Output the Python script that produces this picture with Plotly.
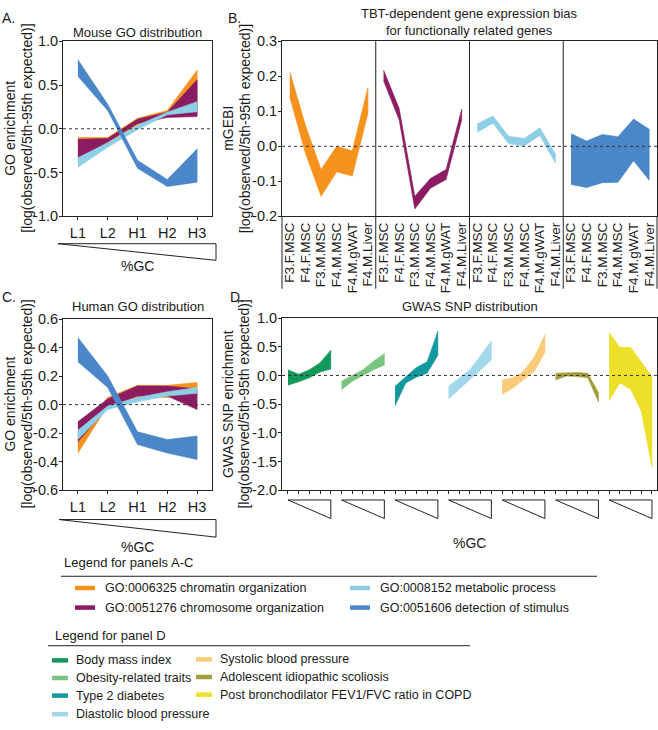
import plotly.graph_objects as go

# ---------------- data ----------------
gc_labels = ["L1", "L2", "H1", "H2", "H3"]
y_ticks_a = [-1.0, -0.5, 0.0, 0.5, 1.0]
y_ticktext_a = ["-1.0", "-0.5", "0.0", "0.5", "1.0"]
y_ticks_b = [-0.2, -0.1, 0.0, 0.1, 0.2, 0.3]
y_ticktext_b = ["-0.2", "-0.1", "0.0", "0.1", "0.2", "0.3"]
y_ticks_c = [-0.6, -0.4, -0.2, 0.0, 0.2, 0.4, 0.6]
y_ticktext_c = ["-0.6", "-0.4", "-0.2", "0.0", "0.2", "0.4", "0.6"]
y_ticks_d = [-2.0, -1.5, -1.0, -0.5, 0.0, 0.5, 1.0]
y_ticktext_d = ["-2.0", "-1.5", "-1.0", "-0.5", "0.0", "0.5", "1.0"]

go_names = ["GO:0006325 chromatin organization", "GO:0051276 chromosome organization",
            "GO:0008152 metabolic process", "GO:0051606 detection of stimulus"]
go_colors = ["#F5921E", "#8B1C62", "#8ECFE8", "#4A86C8"]

# Panel A (mouse)
mouse_chromatin_hi = [-0.10, -0.10, 0.12, 0.21, 0.67]
mouse_chromatin_lo = [-0.38, -0.17, 0.04, 0.14, 0.16]
mouse_chromosome_hi = [-0.12, -0.11, 0.11, 0.19, 0.56]
mouse_chromosome_lo = [-0.35, -0.15, 0.06, 0.13, 0.14]
mouse_metabolic_hi = [-0.33, -0.16, 0.04, 0.19, 0.31]
mouse_metabolic_lo = [-0.44, -0.21, -0.01, 0.16, 0.195]
mouse_detection_hi = [0.79, 0.28, -0.36, -0.58, -0.23]
mouse_detection_lo = [0.60, 0.21, -0.45, -0.66, -0.61]

# Panel C (human)
human_chromatin_hi = [-0.20, 0.05, 0.135, 0.135, 0.155]
human_chromatin_lo = [-0.34, -0.01, 0.05, 0.05, 0.10]
human_chromosome_hi = [-0.12, 0.04, 0.13, 0.13, 0.11]
human_chromosome_lo = [-0.26, -0.02, 0.06, 0.06, -0.035]
human_metabolic_hi = [-0.18, -0.01, 0.05, 0.09, 0.12]
human_metabolic_lo = [-0.245, -0.035, 0.02, 0.06, 0.08]
human_detection_hi = [0.47, 0.20, -0.19, -0.245, -0.22]
human_detection_lo = [0.30, 0.12, -0.28, -0.34, -0.385]

# Panel B (mGEBI)
sample_labels = ["F3.F.MSC", "F4.F.MSC", "F3.M.MSC", "F4.M.MSC", "F4.M.gWAT", "F4.M.Liver"]
mgebi_chromatin_hi = [0.213, 0.06, -0.066, 0.0, -0.013, 0.168]
mgebi_chromatin_lo = [0.14, -0.02, -0.143, -0.073, -0.085, 0.094]
mgebi_chromosome_hi = [0.218, 0.108, -0.143, -0.092, -0.066, 0.106]
mgebi_chromosome_lo = [0.187, 0.075, -0.179, -0.12, -0.095, 0.075]
mgebi_metabolic_hi = [0.064, 0.087, 0.029, 0.022, 0.053, -0.022]
mgebi_metabolic_lo = [0.04, 0.066, 0.008, 0.001, 0.031, -0.048]
mgebi_detection_hi = [0.036, 0.015, 0.034, 0.027, 0.078, 0.049]
mgebi_detection_lo = [-0.109, -0.118, -0.104, -0.103, -0.041, -0.097]

# Panel D (GWAS)
gwas_names = ["Body mass index", "Obesity-related traits", "Type 2 diabetes",
              "Diastolic blood pressure", "Systolic blood pressure",
              "Adolescent idiopathic scoliosis", "Post bronchodilator FEV1/FVC ratio in COPD"]
gwas_colors = ["#12995A", "#7BC47F", "#11999E", "#A2D7EC", "#FCCB7A", "#A19E3A", "#EDE02A"]
bmi_hi = [0.10, 0.02, 0.10, 0.22, 0.44]
bmi_lo = [-0.17, -0.11, -0.04, 0.06, 0.11]
obesity_hi = [-0.10, 0.00, 0.10, 0.25, 0.38]
obesity_lo = [-0.25, -0.10, 0.00, 0.10, 0.18]
t2d_hi = [-0.19, -0.03, 0.14, 0.24, 0.77]
t2d_lo = [-0.53, -0.13, -0.03, 0.04, 0.35]
dbp_hi = [-0.19, -0.05, 0.10, 0.35, 0.60]
dbp_lo = [-0.41, -0.25, -0.07, 0.10, 0.27]
sbp_hi = [-0.08, -0.04, 0.07, 0.32, 0.71]
sbp_lo = [-0.33, -0.22, -0.07, 0.07, 0.40]
ais_hi = [0.04, 0.05, 0.05, 0.04, -0.30]
ais_lo = [-0.08, -0.01, -0.02, -0.04, -0.46]
copd_hi = [0.75, 0.49, 0.49, 0.24, -0.02]
copd_lo = [-0.44, -0.13, -0.24, -0.62, -1.60]

# ---------------- helpers ----------------
W, H = 658, 730
FONT = "Liberation Sans, Arial, Helvetica, sans-serif"
INK = "#1a1a1a"


def fx(p):
    return p / W


def fy(p):
    return 1 - p / H


def band(xs, hi, lo, color, xa, ya, name):
    return go.Scatter(x=list(xs) + list(xs)[::-1], y=list(hi) + list(lo)[::-1],
                      fill="toself", fillcolor=color, mode="lines",
                      line=dict(width=0.6, color=color), xaxis=xa, yaxis=ya,
                      name=name, showlegend=False, hoverinfo="skip")


fig = go.Figure()

xa = list(range(5))
for hi, lo, c, n in zip([mouse_chromatin_hi, mouse_chromosome_hi, mouse_metabolic_hi, mouse_detection_hi],
                        [mouse_chromatin_lo, mouse_chromosome_lo, mouse_metabolic_lo, mouse_detection_lo],
                        go_colors, go_names):
    fig.add_trace(band(xa, hi, lo, c, "x", "y", n))

b_sets = [(mgebi_chromatin_hi, mgebi_chromatin_lo), (mgebi_chromosome_hi, mgebi_chromosome_lo),
          (mgebi_metabolic_hi, mgebi_metabolic_lo), (mgebi_detection_hi, mgebi_detection_lo)]
for k, ((hi, lo), c, n) in enumerate(zip(b_sets, go_colors, go_names)):
    xs = [k * 6 + i for i in range(6)]
    fig.add_trace(band(xs, hi, lo, c, "x2", "y2", n))

for hi, lo, c, n in zip([human_chromatin_hi, human_chromosome_hi, human_metabolic_hi, human_detection_hi],
                        [human_chromatin_lo, human_chromosome_lo, human_metabolic_lo, human_detection_lo],
                        go_colors, go_names):
    fig.add_trace(band(xa, hi, lo, c, "x3", "y3", n))

d_sets = [(bmi_hi, bmi_lo), (obesity_hi, obesity_lo), (t2d_hi, t2d_lo), (dbp_hi, dbp_lo),
          (sbp_hi, sbp_lo), (ais_hi, ais_lo), (copd_hi, copd_lo)]
for g, ((hi, lo), c, n) in enumerate(zip(d_sets, gwas_colors, gwas_names)):
    xs = [g * 5 + i for i in range(5)]
    fig.add_trace(band(xs, hi, lo, c, "x4", "y4", n))

# ---------------- axes ----------------
base = dict(showline=True, linecolor="#222", linewidth=1, mirror=True, showgrid=False,
            zeroline=False, ticks="outside", ticklen=3, tickcolor="#222",
            tickfont=dict(size=14.5, color=INK, family=FONT))
ybase = dict(base, ticklabelstandoff=-2)

fig.update_layout(
    xaxis=dict(base, domain=[fx(63), fx(212)], range=[-0.5, 4.5], anchor="y",
               tickvals=xa, ticktext=gc_labels),
    yaxis=dict(ybase, domain=[fy(213), fy(34)], range=[-1, 1], anchor="x",
               tickvals=y_ticks_a, ticktext=y_ticktext_a),
    xaxis2=dict(base, domain=[fx(282), fx(657)], range=[-0.5, 23.5], anchor="y2",
                tickvals=list(range(24)), ticktext=sample_labels * 4, ticks="",
                tickangle=-90, tickfont=dict(size=13.5, color=INK, family=FONT)),
    yaxis2=dict(ybase, domain=[fy(213), fy(34)], range=[-0.2, 0.3], anchor="x2",
                tickvals=y_ticks_b, ticktext=y_ticktext_b),
    xaxis3=dict(base, domain=[fx(63), fx(212)], range=[-0.5, 4.5], anchor="y3",
                tickvals=xa, ticktext=gc_labels),
    yaxis3=dict(ybase, domain=[fy(493), fy(318)], range=[-0.6, 0.6], anchor="x3",
                tickvals=y_ticks_c, ticktext=y_ticktext_c),
    xaxis4=dict(base, domain=[fx(282), fx(657)], range=[-0.56, 34.47], anchor="y4",
                tickvals=list(range(35)), showticklabels=False),
    yaxis4=dict(ybase, domain=[fy(493), fy(317)], range=[-2, 1], anchor="x4",
                tickvals=y_ticks_d, ticktext=y_ticktext_d),
)

# ---------------- shapes ----------------
shapes = []
for xr, yr in [("x", "y"), ("x2", "y2"), ("x3", "y3"), ("x4", "y4")]:
    shapes.append(dict(type="line", xref=xr + " domain", yref=yr, x0=0, x1=1, y0=0, y1=0,
                       line=dict(color="#333", width=1, dash="dot")))
for xv in [5.5, 11.5, 17.5]:
    shapes.append(dict(type="line", xref="x2", yref="paper", x0=xv, x1=xv, y0=fy(287), y1=fy(34),
                       line=dict(color="#222", width=1)))
for xv in [0, 1]:
    shapes.append(dict(type="line", xref="x2 domain", yref="paper", x0=xv, x1=xv, y0=fy(287), y1=fy(213),
                       line=dict(color="#222", width=1)))


def tri_paper(x0, x1, y0, y1):
    return dict(type="path", xref="paper", yref="paper",
                path=f"M {fx(x0)},{fy(y0)} L {fx(x1)},{fy(y0)} L {fx(x1)},{fy(y1)} Z",
                line=dict(color="#222", width=1))


shapes.append(tri_paper(58, 216, 241, 258))
shapes.append(tri_paper(59, 216, 523, 541))
for g in range(7):
    shapes.append(dict(type="path", xref="x4", yref="paper",
                       path=f"M {g*5},{fy(503)} L {g*5+4},{fy(503)} L {g*5+4},{fy(522)} Z",
                       line=dict(color="#222", width=1)))

shapes.append(dict(type="line", xref="paper", yref="paper", x0=fx(61), x1=fx(597), y0=fy(581), y1=fy(581),
                   line=dict(color="#222", width=1)))
shapes.append(dict(type="line", xref="paper", yref="paper", x0=fx(48), x1=fx(470), y0=fy(652), y1=fy(652),
                   line=dict(color="#222", width=1)))

annotations = []


def txt(x, y, s, size=13, xanchor="left", angle=0):
    annotations.append(dict(x=fx(x), y=fy(y), xref="paper", yref="paper", text=s, showarrow=False,
                            xanchor=xanchor, yanchor="middle", textangle=angle,
                            font=dict(size=size, color=INK, family=FONT)))


ac_pos = [(75, 593), (75, 613), (350, 593), (350, 613)]
for (x0, y0), c, n in zip(ac_pos, go_colors, go_names):
    shapes.append(dict(type="line", xref="paper", yref="paper", x0=fx(x0), x1=fx(x0 + 20), y0=fy(y0), y1=fy(y0),
                       line=dict(color=c, width=4.5)))
    txt(x0 + 28, y0, n, 12.5)

d_pos = [(52, 667), (52, 685), (52, 703), (52, 722), (196, 666), (196, 684), (196, 702)]
for (x0, y0), c, n in zip(d_pos, gwas_colors, gwas_names):
    shapes.append(dict(type="line", xref="paper", yref="paper", x0=fx(x0), x1=fx(x0 + 16), y0=fy(y0), y1=fy(y0),
                       line=dict(color=c, width=4.5)))
    txt(x0 + 22, y0, n, 12.5)

txt(62, 567, "Legend for panels A-C", 13)
txt(53, 642, "Legend for panel D", 13)

txt(137.5, 25, "Mouse GO distribution", 13, "center")
txt(469.5, 14.5, "TBT-dependent gene expression bias<br>for functionally related genes", 13, "center")
txt(137.5, 305, "Human GO distribution", 13, "center")
txt(469.5, 305, "GWAS SNP distribution", 13, "center")

txt(0, 10, "A.", 14)
txt(226, 10, "B.", 14)
txt(0, 295, "C.", 14)
txt(228, 295, "D.", 14)

ylab2 = "[log(observed/5th-95th expected)]"
txt(10, 123.5, "GO enrichment", 14, "center", -90)
txt(27, 123.5, ylab2, 14, "center", -90)
txt(228, 123.5, "mGEBI", 14, "center", -90)
txt(244.5, 123.5, ylab2, 14, "center", -90)
txt(10, 405.5, "GO enrichment", 14, "center", -90)
txt(27, 405.5, ylab2, 14, "center", -90)
txt(228, 405, "GWAS SNP enrichment", 14, "center", -90)
txt(244.5, 405, ylab2, 14, "center", -90)

txt(137, 264, "%GC", 14, "center")
txt(137, 551, "%GC", 14, "center")
txt(469, 547, "%GC", 14, "center")

fig.update_layout(width=W, height=H, margin=dict(l=0, r=0, t=0, b=0),
                  paper_bgcolor="white", plot_bgcolor="white", showlegend=False,
                  shapes=shapes, annotations=annotations,
                  font=dict(family=FONT, color=INK))

fig.write_html("out.html", config={"displayModeBar": False, "staticPlot": True},
               post_script="document.body.style.margin='0';document.body.style.overflow='hidden';")
